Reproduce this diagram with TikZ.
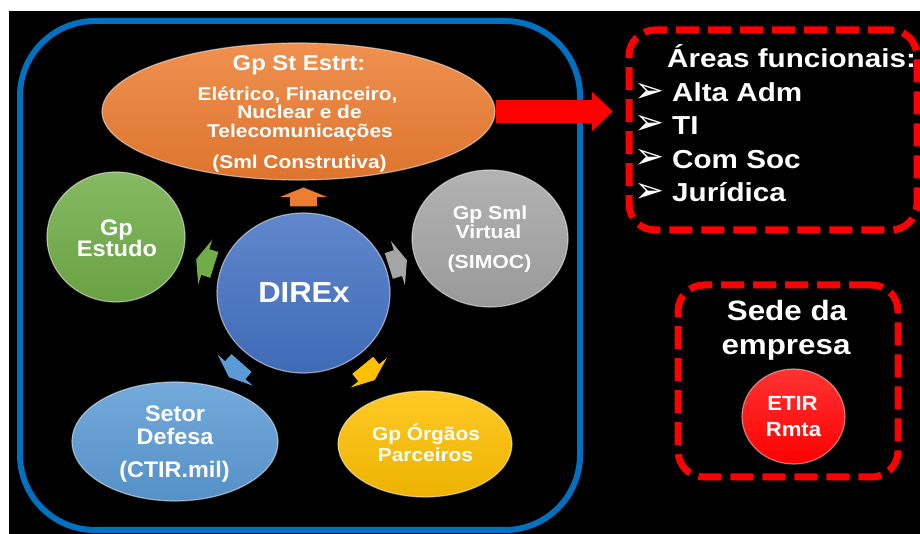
\documentclass[tikz,border=0pt]{standalone}
\usepackage{fontspec}
\setmainfont{Liberation Sans}
\newfontfamily\dejavu{DejaVu Sans}
\usetikzlibrary{shapes.geometric,arrows.meta}
\definecolor{frameBlue}{RGB}{0,112,192}
\definecolor{acOrange}{RGB}{237,125,49}
\definecolor{acGray}{RGB}{165,165,165}
\definecolor{acYellow}{RGB}{255,192,0}
\definecolor{acLblue}{RGB}{91,155,213}
\definecolor{acGreen}{RGB}{112,173,71}
\definecolor{acBlue}{RGB}{68,114,196}
\definecolor{pureRed}{RGB}{255,0,0}
\begin{document}
\begin{tikzpicture}[x=1pt,y=1pt,
  blob/.style 2 args={ellipse, inner sep=0pt, minimum width=#1, minimum height=#2},
  glossy/.style={top color=#1!85!white, bottom color=#1!93!black, draw=white, draw opacity=0.5, line width=1.2},
  lbl/.style 2 args={text=white, inner sep=0pt, anchor=base, yshift=-0.358*#1, font=\bfseries\fontsize{#1}{#1}\selectfont, xscale=#2},
  lblw/.style 2 args={text=white, inner sep=0pt, anchor=base west, yshift=-0.358*#1, font=\bfseries\fontsize{#1}{#1}\selectfont, xscale=#2},
  bul/.style={text=white, inner sep=0pt, anchor=center, font=\dejavu\fontsize{36}{36}\selectfont},
  redbox/.style={rectangle, draw=pureRed, line width=7, dash pattern=on 23 off 9, rounded corners=26, inner sep=0pt},
  sarrow/.pic={\path[pic actions] (-9.5,-13.5) -- (0,-13.5) -- (0,-23.5) -- (9.5,0) -- (0,23.5) -- (0,13.5) -- (-9.5,13.5) -- cycle;}
]
\fill[white] (0,0) rectangle (920,534);
\fill[black] (9,0) rectangle (920,523);
\useasboundingbox (0,0) rectangle (920,534);

% big blue frame
\node[rectangle, draw=frameBlue, line width=6, rounded corners=75, inner sep=0pt,
      minimum width=560, minimum height=509] (frame) at (300,258.5) {};

% shapes
\node[blob={393}{137}, glossy=acOrange] (orange) at (298.5,422.5) {};
\node[blob={138}{130}, glossy=acGreen] (green) at (116,297) {};
\node[blob={173}{160}, glossy=acBlue] (direx) at (303.5,241) {};
\node[blob={156}{137}, glossy=acGray] (gray) at (490,295.5) {};
\node[blob={174}{106}, glossy=acYellow] (yellow) at (425,90) {};
\node[blob={206}{119}, glossy=acLblue] (defesa) at (175,92.5) {};
\node[blob={103}{95}, top color=red!80!white, bottom color=pureRed, draw=white, draw opacity=0.45, line width=1.2] (etir) at (793.5,117.5) {};

% small block arrows around DIREx
\pic[fill=acOrange, rotate=90] at ([shift={(90:96)}]direx.center) {sarrow};
\pic[fill=acGray, rotate=17.6] at ([shift={(17.6:99)}]direx.center) {sarrow};
\pic[fill=acGreen, rotate=162.5] at ([shift={(162.5:103)}]direx.center) {sarrow};
\pic[fill=acLblue, rotate=228.5] at ([shift={(228.5:103)}]direx.center) {sarrow};
\pic[fill=acYellow, rotate=-50.7] at ([shift={(-50.7:103)}]direx.center) {sarrow};

% red boxes
\node[redbox, minimum width=288, minimum height=200] (areas) at (773,404) {};
\node[redbox, minimum width=220, minimum height=192] (sede) at (788,153) {};

% red arrow
\coordinate (rtip) at (613,422.5);
\draw[pureRed, line width=23, -{Triangle[width=38pt,length=21pt]}] (orange.east) -- (rtip);

% texts: orange
\node[lbl={21.5}{1.11}] (oT) at (299,471.5) {Gp St Estrt:};
\node[lbl={18.5}{1.13}] (oL1) at (297.5,440.3) {Elétrico, Financeiro,};
\node[lbl={18.5}{1.13}] (oL2) at (299.5,421.8) {Nuclear e de};
\node[lbl={18.5}{1.13}] (oL3) at (300,402.8) {Telecomunicações};
\node[lbl={18.5}{1.13}] (oL4) at (299.5,371.8) {(Sml Construtiva)};

% green
\node[lbl={22.5}{1.05}] (gT1) at (116.5,307) {Gp};
\node[lbl={22.5}{1.05}] (gT2) at (117,286) {Estudo};

% direx
\node[lbl={29}{1.07}] (dT) at (304,242) {DIREx};

% gray
\node[lbl={18.8}{1.13}] (sT1) at (490,321) {Gp Sml};
\node[lbl={18.8}{1.13}] (sT2) at (488.5,302.3) {Virtual};
\node[lbl={18.8}{1.13}] (sT3) at (489.5,272.3) {(SIMOC)};

% defesa
\node[lbl={22.5}{1.04}] (fT1) at (175,120.5) {Setor};
\node[lbl={22.5}{1.04}] (fT2) at (175,97.5) {Defesa};
\node[lbl={22.5}{1.04}] (fT3) at (174.5,65) {(CTIR.mil)};

% yellow
\node[lbl={18.8}{1.11}] (yT1) at (426,100) {Gp Órgãos};
\node[lbl={18.8}{1.11}] (yT2) at (425.5,79) {Parceiros};

% areas list
\node[lblw={26}{1.14}] (aT) at (667,475.3) {Áreas funcionais:};
\node[lblw={26}{1.14}] (a1) at (672,441.5) {Alta Adm};
\node[lblw={26}{1.14}] (a2) at (672,408.7) {TI};
\node[lblw={26}{1.14}] (a3) at (672,375) {Com Soc};
\node[lblw={26}{1.14}] (a4) at (672,341.5) {Jurídica};
\node[bul] (b1) at (650,441.5) {➢};
\node[bul] (b2) at (650,408.7) {➢};
\node[bul] (b3) at (650,375) {➢};
\node[bul] (b4) at (650,341.5) {➢};

% sede
\node[lbl={28}{1.12}] (eT1) at (787,223.3) {Sede da};
\node[lbl={28}{1.12}] (eT2) at (786,190) {empresa};
\node[lbl={20.5}{1.08}] (rT1) at (792.5,131) {ETIR};
\node[lbl={20.5}{1.08}] (rT2) at (793.5,104.5) {Rmta};
\end{tikzpicture}
\end{document}
